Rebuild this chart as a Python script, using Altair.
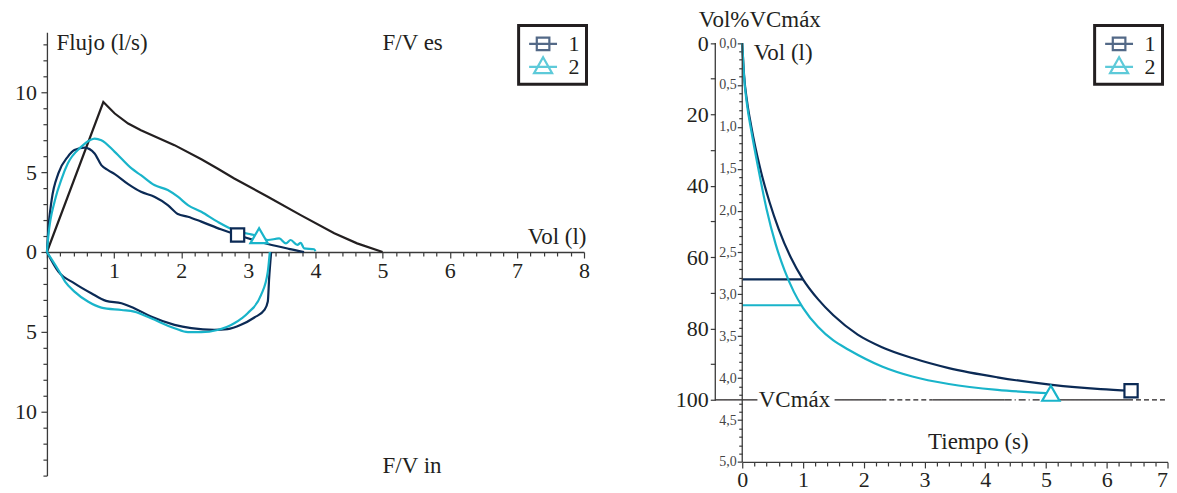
import altair as alt
import pandas as pd

FONT = "Liberation Serif"
NAVY = "#0b2a55"
CYAN = "#19b4ca"
INK = "#231f20"
AXC = "#3a3a3a"

SERIES = ["1", "2"]

# ---------------- Left panel: flow-volume loop ----------------
ref_vol = [0.0, 0.84, 1.01, 1.21, 1.40, 1.90, 2.30, 2.54, 2.79, 3.29, 3.78, 4.28, 4.62, 5.0]
ref_flow = [0.0, 9.39, 8.67, 8.04, 7.62, 6.69, 5.81, 5.23, 4.60, 3.46, 2.31, 1.17, 0.54, 0.0]

s1_exp_vol = [0.0, 0.02, 0.07, 0.17, 0.31, 0.41, 0.56, 0.71, 0.81, 0.91, 1.01, 1.21, 1.40,
              1.60, 1.80, 1.95, 2.10, 2.30, 2.59, 2.84, 3.29, 3.60, 3.83]
s1_exp_flow = [0.0, 1.38, 3.25, 4.92, 5.96, 6.38, 6.54, 6.17, 5.44, 5.13, 4.88, 4.25, 3.77,
               3.46, 2.94, 2.38, 2.21, 1.90, 1.42, 1.06, 0.50, 0.20, 0.0]
s1_insp_vol = [0.0, 0.17, 0.41, 0.66, 0.88, 1.11, 1.30, 1.55, 1.90, 2.15, 2.49, 2.69, 2.89,
               3.09, 3.24, 3.29, 3.31, 3.34]
s1_insp_flow = [0.0, -1.23, -1.96, -2.58, -3.06, -3.21, -3.52, -4.04, -4.56, -4.77, -4.88,
                -4.83, -4.56, -4.10, -3.63, -3.10, -1.65, 0.0]

s2_exp_vol = [0.0, 0.02, 0.12, 0.22, 0.31, 0.51, 0.64, 0.71, 0.81, 1.01, 1.26, 1.40, 1.60,
              1.80, 1.95, 2.10, 2.30, 2.54, 2.79, 3.04, 3.16, 3.29, 3.46, 3.56, 3.63, 3.73,
              3.78, 3.83, 3.98, 4.0]
s2_exp_flow = [0.0, 0.96, 3.25, 4.60, 5.54, 6.58, 7.00, 7.10, 7.00, 6.27, 5.23, 4.81, 4.19,
               3.88, 3.46, 2.94, 2.52, 1.90, 1.37, 1.10, 1.00, 0.75, 0.85, 0.54, 0.75, 0.44,
               0.58, 0.23, 0.17, 0.05]
s2_insp_vol = [0.0, 0.17, 0.27, 0.41, 0.61, 0.81, 1.11, 1.30, 1.55, 1.90, 2.10, 2.30, 2.54,
               2.79, 2.99, 3.19, 3.29, 3.32]
s2_insp_flow = [0.0, -1.13, -1.85, -2.48, -3.10, -3.48, -3.63, -3.73, -4.15, -4.77, -5.02,
                -5.02, -4.88, -4.46, -3.83, -2.69, -1.23, 0.0]

fv_mark_vol = [2.84, 3.16]
fv_mark_flow = [1.06, 1.02]

fv_labels = ["F/V es", "F/V in"]
fv_label_vol = [5.0, 5.0]
fv_label_flow = [13.1, -13.4]

# ---------------- Right panel: volume-time ----------------
s1_t = [0.0, 0.03, 0.08, 0.15, 0.29, 0.45, 0.60, 0.80, 1.00, 1.25, 1.50, 1.90, 2.30, 2.80,
        3.40, 4.20, 5.10, 5.90, 6.40]
s1_v = [0.0, 0.38, 0.70, 1.00, 1.48, 1.90, 2.22, 2.56, 2.82, 3.06, 3.25, 3.48, 3.63, 3.76,
        3.88, 3.99, 4.08, 4.13, 4.15]
s2_t = [0.0, 0.03, 0.08, 0.15, 0.26, 0.40, 0.55, 0.70, 0.85, 1.00, 1.25, 1.50, 1.75, 2.30,
        2.80, 3.40, 4.20, 5.08]
s2_v = [0.0, 0.40, 0.74, 1.05, 1.48, 1.98, 2.40, 2.72, 2.97, 3.16, 3.39, 3.55, 3.66, 3.86,
        3.98, 4.07, 4.14, 4.18]

vt_mark_t = [6.40, 5.08]
vt_mark_v = [4.15, 4.18]

fev1_vol = [2.82, 3.13]
fev1_t_end = [1.00, 0.97]

VC_MAX = 4.26
vc_seg_start = [-0.45, 1.52, 2.29, 3.13, 4.32, 4.95, 6.35]
vc_seg_end = [0.25, 2.29, 3.13, 4.32, 4.95, 6.35, 7.00]
vc_seg_style = ["solid", "solid", "dash", "solid", "dashdot", "solid", "dash"]
vc_label = "VCmáx"
vc_label_t = 0.86

# ---------------- helpers ----------------
def curves_df(items, xname, yname):
    rows = []
    for curve, series, xs, ys in items:
        for i, (a, b) in enumerate(zip(xs, ys)):
            rows.append({"curve": curve, "series": series, "i": i, xname: a, yname: b})
    return pd.DataFrame(rows)


IS_INT = "abs(datum.value - round(datum.value)) < 1e-6"
PATH_SQ = "M-1.33,0H1.33M-0.6,-0.6H0.6V0.6H-0.6Z"
PATH_TRI = "M-1.33,0H1.33M0,-0.92L0.86,0.61H-0.86Z"

color_scale = alt.Scale(domain=SERIES, range=[NAVY, CYAN])
mark_shape_scale = alt.Scale(domain=SERIES, range=["square", "triangle-up"])
mark_size_scale = alt.Scale(domain=SERIES, range=[175, 300])
legend_shape_scale = alt.Scale(domain=SERIES, range=[PATH_SQ, PATH_TRI])

TITLE_FS = 23
axis_common = dict(grid=False, labelFont=FONT, titleFont=FONT, labelColor=INK,
                   titleColor=INK, domainColor=AXC, tickColor=AXC, domainWidth=1.3,
                   tickWidth=1.2, labelOverlap=False, labelFlush=False,
                   titleFontWeight="normal", labelFontSize=22, titleFontSize=TITLE_FS)


def make_legend(lx, ly):
    return alt.Legend(orient="none", legendX=lx, legendY=ly, title=None,
                      labelFont=FONT, labelFontSize=22, labelColor=INK,
                      symbolSize=441, symbolStrokeWidth=2.2, strokeColor=INK,
                      fillColor="white", padding=6.5, rowPadding=-4, labelOffset=13.5,
                      symbolOffset=6)


# ================= LEFT =================
W1, H1 = 538, 444
Y1 = [-14.0, 13.75]
x_offset_left = -H1 * (0 - Y1[0]) / (Y1[1] - Y1[0])

x_axis_left = alt.Axis(
    values=[i / 5 for i in range(0, 41)],
    labelExpr=f"({IS_INT}) && datum.value > 0 ? format(datum.value, 'd') : ''",
    offset=x_offset_left,
    tickSize={"condition": {"test": IS_INT, "value": 6}, "value": 4},
    labelPadding=3,
    title="Vol (l)", titleX=540, titleY=-16, titleAlign="right", titleBaseline="middle",
    **axis_common)
y_axis_left = alt.Axis(
    values=list(range(-14, 14)),
    labelExpr="datum.value % 5 === 0 ? format(abs(datum.value), 'd') : ''",
    tickSize={"condition": {"test": "datum.value % 5 === 0", "value": 6}, "value": 4},
    labelPadding=4.5,
    title="Flujo (l/s)", titleAngle=0, titleAlign="left", titleBaseline="middle",
    titleX=9, titleY=10,
    **axis_common)

xs_l = alt.Scale(domain=[0, 8], nice=False, zero=False)
ys_l = alt.Scale(domain=Y1, nice=False, zero=False)
xl = alt.X("vol:Q", scale=xs_l, axis=x_axis_left)
yl = alt.Y("flow:Q", scale=ys_l, axis=y_axis_left)

ref_df = curves_df([("ref", "ref", ref_vol, ref_flow)], "vol", "flow")
fv_df = curves_df([
    ("1-exp", "1", s1_exp_vol, s1_exp_flow),
    ("1-insp", "1", s1_insp_vol, s1_insp_flow),
    ("2-exp", "2", s2_exp_vol, s2_exp_flow),
    ("2-insp", "2", s2_insp_vol, s2_insp_flow),
], "vol", "flow")
fv_mk = pd.DataFrame({"series": SERIES, "vol": fv_mark_vol, "flow": fv_mark_flow})
fv_txt = pd.DataFrame({"label": fv_labels, "vol": fv_label_vol, "flow": fv_label_flow})

ref_line = alt.Chart(ref_df).mark_line(color=INK, strokeWidth=2.2).encode(
    x=xl, y=yl, order="i:Q")
fv_lines = alt.Chart(fv_df).mark_line(strokeWidth=2.2, interpolate="monotone").encode(
    x=xl, y=yl, detail="curve:N", order="i:Q",
    color=alt.Color("series:N", scale=color_scale, legend=None))
fv_marks = alt.Chart(fv_mk).mark_point(filled=True, fill="white", strokeWidth=2.2,
                                       opacity=1).encode(
    x=xl, y=yl,
    stroke=alt.Stroke("series:N", scale=color_scale, legend=None),
    shape=alt.Shape("series:N", scale=mark_shape_scale, legend=None),
    size=alt.Size("series:N", scale=mark_size_scale, legend=None))
fv_text = alt.Chart(fv_txt).mark_text(font=FONT, fontSize=TITLE_FS, color=INK, align="left",
                                      baseline="middle").encode(x=xl, y=yl, text="label:N")

leg_l = make_legend(472.5, -7)
fv_legend = alt.Chart(fv_mk).transform_filter("false").mark_point(
    filled=False, strokeWidth=2.2).encode(
    x=alt.value(0), y=alt.value(0),
    color=alt.Color("series:N", scale=color_scale, legend=leg_l),
    shape=alt.Shape("series:N", scale=legend_shape_scale, legend=leg_l))

left = alt.layer(
    alt.layer(ref_line, fv_lines, fv_marks, fv_text),
    fv_legend,
).resolve_scale(color="independent", shape="independent").properties(width=W1, height=H1)

# ================= RIGHT =================
W2 = 426
H2 = 430.3
V_TOP = -0.1275

x_axis_right = alt.Axis(
    values=[i / 5 for i in range(0, 36)],
    labelExpr=f"({IS_INT}) ? format(datum.value, 'd') : ''",
    labelAlign={"condition": {"test": "datum.value > 6.9", "value": "right"},
                "value": "center"},
    tickSize={"condition": {"test": IS_INT, "value": 6}, "value": 4},
    labelPadding=2,
    title="Tiempo (s)", titleX=236, titleY=-20, titleAlign="center", titleBaseline="middle",
    **axis_common)

inner_common = dict(axis_common)
inner_common.update(labelFontSize=14, labelColor="#444444")
inner_axis = alt.Axis(
    values=[i / 10 for i in range(0, 51)],
    labelExpr="abs(datum.value * 2 - round(datum.value * 2)) < 1e-6 ? "
              "replace(format(datum.value, '.1f'), '.', ',') : ''",
    tickSize={"condition": {"test": "abs(datum.value * 2 - round(datum.value * 2)) < 1e-6",
                            "value": 5}, "value": 3.5},
    labelPadding=1, domain=False, orient="left",
    title="Vol (l)", titleAngle=0, titleAlign="left", titleBaseline="middle",
    titleX=11, titleY=20,
    **inner_common)

outer_axis = alt.Axis(
    values=[VC_MAX * p / 100 for p in range(0, 101, 10)],
    labelExpr=f"round(datum.value / {VC_MAX} * 100) % 20 === 0 ? "
              f"format(round(datum.value / {VC_MAX} * 100), 'd') : ''",
    tickSize=5, labelPadding=2, domain=False, orient="left", offset=27,
    title="Vol%VCmáx", titleAngle=0, titleAlign="left", titleBaseline="middle",
    titleX=-17, titleY=-13,
    **axis_common)

xs_r = alt.Scale(domain=[0, 7], nice=False, zero=False)
ys_r = alt.Scale(domain=[V_TOP, 5], reverse=True, nice=False, zero=False)
xr = alt.X("t:Q", scale=xs_r, axis=x_axis_right)
yr = alt.Y("v:Q", scale=ys_r, axis=inner_axis)

vt_df = curves_df([("1", "1", s1_t, s1_v), ("2", "2", s2_t, s2_v)], "t", "v")
vt_mk = pd.DataFrame({"series": SERIES, "t": vt_mark_t, "v": vt_mark_v})
fev1_df = pd.DataFrame({"series": SERIES, "t": [0.0, 0.0], "t1": fev1_t_end, "v": fev1_vol})
vc_df = pd.DataFrame({"t": vc_seg_start, "t1": vc_seg_end, "v": [VC_MAX] * len(vc_seg_start),
                      "style": vc_seg_style})
vc_txt = pd.DataFrame({"label": [vc_label], "t": [vc_label_t], "v": [VC_MAX]})
inner_line = pd.DataFrame({"v": [0.0], "v1": [5.0]})
outer_line = pd.DataFrame({"v": [0.0], "v1": [VC_MAX]})

vt_lines = alt.Chart(vt_df).mark_line(strokeWidth=2.2, interpolate="monotone").encode(
    x=xr, y=yr, detail="curve:N", order="i:Q",
    color=alt.Color("series:N", scale=color_scale, legend=None))
fev1_rules = alt.Chart(fev1_df).mark_rule(strokeWidth=2.2).encode(
    x=xr, x2="t1:Q", y=yr, color=alt.Color("series:N", scale=color_scale, legend=None))
vc_rules = alt.Chart(vc_df).mark_rule(strokeWidth=1.2, color=INK).encode(
    x=xr, x2="t1:Q", y=yr,
    strokeDash=alt.StrokeDash("style:N", scale=alt.Scale(
        domain=["solid", "dash", "dashdot"], range=[[1, 0], [5, 3], [7, 3, 1, 3]]),
        legend=None))
vc_text = alt.Chart(vc_txt).mark_text(font=FONT, fontSize=TITLE_FS, color=INK, align="center",
                                      baseline="middle").encode(x=xr, y=yr, text="label:N")
inner_rule = alt.Chart(inner_line).mark_rule(color=AXC, strokeWidth=1.3).encode(
    x=alt.value(0), y=yr, y2="v1:Q")
vt_marks = alt.Chart(vt_mk).mark_point(filled=True, fill="white", strokeWidth=2.2,
                                       opacity=1).encode(
    x=xr, y=yr,
    stroke=alt.Stroke("series:N", scale=color_scale, legend=None),
    shape=alt.Shape("series:N", scale=mark_shape_scale, legend=None),
    size=alt.Size("series:N", scale=alt.Scale(domain=SERIES, range=[165, 320]), legend=None))

outer_rule = alt.Chart(outer_line).mark_rule(color=AXC, strokeWidth=1.3).encode(
    x=alt.value(-27), y=alt.Y("v:Q", scale=ys_r, axis=outer_axis), y2="v1:Q")

leg_r = make_legend(353, -7)
vt_legend = alt.Chart(vt_mk).transform_filter("false").mark_point(
    filled=False, strokeWidth=2.2).encode(
    x=alt.value(0), y=alt.value(0),
    color=alt.Color("series:N", scale=color_scale, legend=leg_r),
    shape=alt.Shape("series:N", scale=legend_shape_scale, legend=leg_r))

right = alt.layer(
    alt.layer(vc_rules, vc_text, fev1_rules, vt_lines, inner_rule, vt_marks),
    outer_rule,
    vt_legend,
).resolve_axis(y="independent").resolve_scale(
    color="independent", shape="independent").properties(width=W2, height=H2)

chart = alt.hconcat(left, right, spacing=158.5, bounds="flush").properties(
    padding={"left": 6, "top": 0, "right": 0, "bottom": 0}
).configure(font=FONT).configure_view(stroke=None).configure_legend(strokeWidth=3)

chart.save("out.html", embed_options={"renderer": "svg", "actions": False})
